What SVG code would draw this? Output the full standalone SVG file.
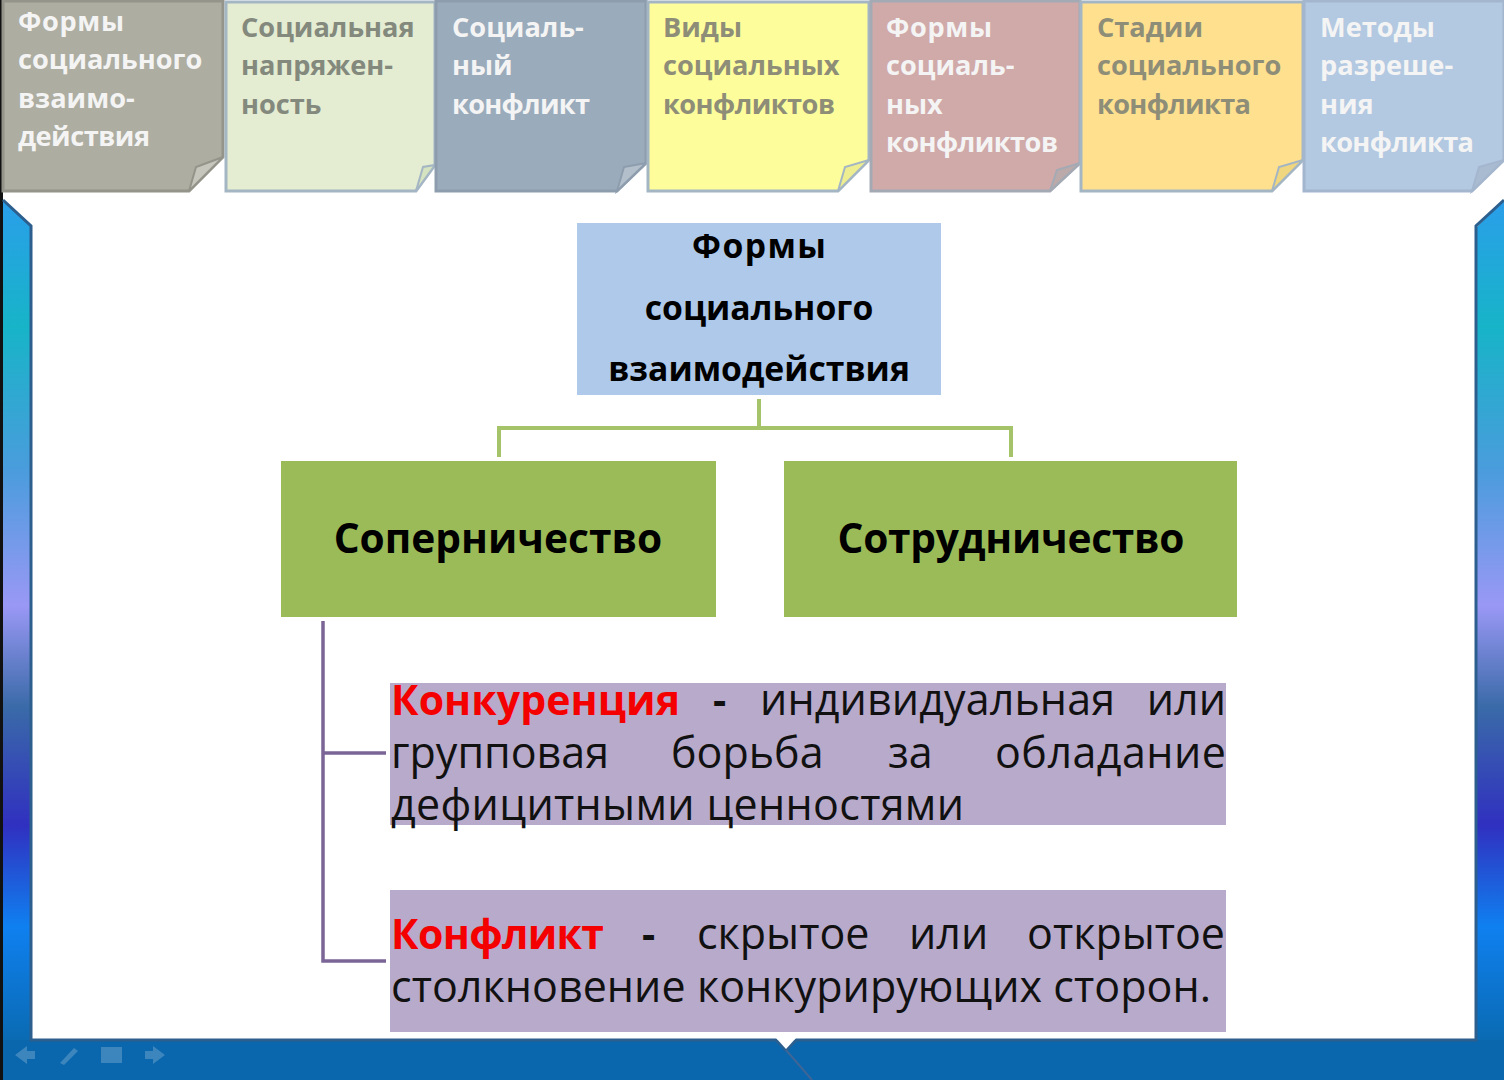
<svg xmlns="http://www.w3.org/2000/svg" width="1504" height="1080" viewBox="0 0 1504 1080">
<defs>
<linearGradient id="bar" x1="0" y1="200" x2="0" y2="1045" gradientUnits="userSpaceOnUse">
<stop offset="0" stop-color="#2a9eea"/><stop offset="0.15" stop-color="#17b4c8"/><stop offset="0.32" stop-color="#4a9cdc"/><stop offset="0.48" stop-color="#9a98f5"/><stop offset="0.6" stop-color="#3a6aa8"/><stop offset="0.74" stop-color="#3030c0"/><stop offset="0.86" stop-color="#0f80f0"/><stop offset="1" stop-color="#0a6ab0"/>
</linearGradient>
</defs>
<style>
text{font-family:"Open Sans","Liberation Sans",sans-serif}
.tab{font-size:27.2px;font-weight:700}
.w{fill:#f4f4f4}.g{fill:#83897d}.y{fill:#8e8e78}
.h{font-size:33.7px;font-weight:700;fill:#000;text-anchor:middle}
.b{font-size:40.7px;font-weight:700;fill:#000;text-anchor:middle}
.p{font-size:43px;fill:#111}
.m{font-size:41px;font-weight:700;fill:#111}
.r{font-size:41px;font-weight:700;fill:#f40000}
.ic{fill:#3d86bd}
</style>
<rect width="1504" height="1080" fill="#fff"/>
<g id="frame">
<path d="M3 200L32 228V1040H1476V228L1504 200V1080H3Z" fill="url(#bar)"/>
<rect y="1040" x="3" width="1501" height="40" fill="#0a67ad"/>
<path d="M0 0H3V1080H0Z" fill="#111"/>
<path d="M3 200L31 226V1040H776L786 1050L796 1040H1476V226L1504 200" fill="none" stroke="#2d5f8e" stroke-width="3"/>
<path d="M776 1038H796L786 1049Z" fill="#fff"/>
<path d="M786 1050L812 1080" stroke="#3e6596" stroke-width="2" fill="none"/>
<g class="ic">
<path d="M15 1055L27 1046V1051H35V1059H27V1064Z"/>
<path d="M60 1063L74 1048L78 1051L64 1065Z"/>
<rect x="101" y="1047" width="21" height="16"/>
<path d="M165 1055L153 1046V1051H145V1059H153V1064Z"/>
</g>
</g>
<g id="tab1"><path d="M3 1H223V157L189 191H3Z" fill="#adada1" stroke="#94948a" stroke-width="3"/><path d="M189 191L196 167L223 157Z" fill="#c6c6bd" stroke="#94948a" stroke-width="2"/>
<text class="tab w" x="18" y="31" textLength="106">Формы</text><text class="tab w" x="18" y="69">социального</text><text class="tab w" x="18" y="108">взаимо-</text><text class="tab w" x="18" y="146" textLength="132">действия</text></g>
<g id="tab2"><path d="M226 2H435V165L416 191H226Z" fill="#e4ecd2" stroke="#a4b6c4" stroke-width="3"/><path d="M416 191L423 167L435 165Z" fill="#d5e3c0" stroke="#a4b6c4" stroke-width="2"/>
<text class="tab g" x="241" y="37">Социальная</text><text class="tab g" x="241" y="75">напряжен-</text><text class="tab g" x="241" y="114">ность</text></g>
<g id="tab3"><path d="M436 1H646V163L617 191H436Z" fill="#9aabbb" stroke="#8d9dae" stroke-width="3"/><path d="M617 191L624 167L646 163Z" fill="#b3c0cc" stroke="#8d9dae" stroke-width="2"/>
<text class="tab w" x="452" y="37">Социаль-</text><text class="tab w" x="452" y="75">ный</text><text class="tab w" x="452" y="114" textLength="138">конфликт</text></g>
<g id="tab4"><path d="M648 2H869V160L838 191H648Z" fill="#fdfd9c" stroke="#a4b6c4" stroke-width="3"/><path d="M838 191L845 167L869 160Z" fill="#eeee90" stroke="#a4b6c4" stroke-width="2"/>
<text class="tab y" x="663" y="37">Виды</text><text class="tab y" x="663" y="75">социальных</text><text class="tab y" x="663" y="114" textLength="172">конфликтов</text></g>
<g id="tab5"><path d="M871 1H1080V163L1050 191H871Z" fill="#d0a9a9" stroke="#a4aab4" stroke-width="3"/><path d="M1050 191L1057 170L1080 163Z" fill="#bcaaaa" stroke="#a4aab4" stroke-width="2"/>
<text class="tab w" x="886" y="37" textLength="106">Формы</text><text class="tab w" x="886" y="75">социаль-</text><text class="tab w" x="886" y="114">ных</text><text class="tab w" x="886" y="152" textLength="172">конфликтов</text></g>
<g id="tab6"><path d="M1081 2H1303V160L1272 191H1081Z" fill="#fee08f" stroke="#a4b6c4" stroke-width="3"/><path d="M1272 191L1279 167L1303 160Z" fill="#f0d67f" stroke="#a4b6c4" stroke-width="2"/>
<text class="tab y" x="1097" y="37">Стадии</text><text class="tab y" x="1097" y="75">социального</text><text class="tab y" x="1097" y="114" textLength="154">конфликта</text></g>
<g id="tab7"><path d="M1304 1H1504V160L1472 191H1304Z" fill="#b3c8e1" stroke="#a4b6ce" stroke-width="3"/><path d="M1472 191L1479 167L1504 160Z" fill="#a8bbd0" stroke="#a4b6ce" stroke-width="2"/>
<text class="tab w" x="1320" y="37">Методы</text><text class="tab w" x="1320" y="75">разреше-</text><text class="tab w" x="1320" y="114">ния</text><text class="tab w" x="1320" y="152" textLength="154">конфликта</text></g>
<g id="connectors" fill="none">
<path d="M759 399V428M499 457V428H1011V457" stroke="#a5c46a" stroke-width="4"/>
<path d="M323 621V961H386M323 753H386" stroke="#7b6596" stroke-width="3.5"/>
</g>
<g id="root"><rect x="577" y="223" width="364" height="172" fill="#aec9e9"/>
<text class="h" x="759" y="258" textLength="134">Формы</text><text class="h" x="759" y="320">социального</text><text class="h" x="759" y="381">взаимодействия</text></g>
<g id="rivalry"><rect x="281" y="461" width="435" height="156" fill="#9bbb59"/><text class="b" x="498" y="553">Соперничество</text></g>
<g id="cooperation"><rect x="784" y="461" width="453" height="156" fill="#9bbb59"/><text class="b" x="1011" y="553" textLength="347">Сотрудничество</text></g>
<g id="competition"><rect x="390" y="683" width="836" height="142" fill="#b8aacb"/>
<text class="r" x="391" y="715" textLength="289">Конкуренция</text><text class="m" x="713" y="715">-</text><text class="p" x="760" y="715" textLength="355">индивидуальная</text><text class="p" x="1226" y="715" text-anchor="end">или</text>
<text class="p" x="391" y="768">групповая</text><text class="p" x="671" y="768">борьба</text><text class="p" x="888" y="768">за</text><text class="p" x="995" y="768" textLength="231">обладание</text>
<text class="p" x="391" y="820" textLength="573">дефицитными ценностями</text></g>
<g id="conflict"><rect x="390" y="890" width="836" height="142" fill="#b8aacb"/>
<text class="r" x="391" y="949" textLength="213">Конфликт</text><text class="m" x="642" y="949">-</text><text class="p" x="697" y="949">скрытое</text><text class="p" x="909" y="949">или</text><text class="p" x="1225" y="949" text-anchor="end">открытое</text>
<text class="p" x="391" y="1002" textLength="820">столкновение конкурирующих сторон.</text></g>
</svg>
